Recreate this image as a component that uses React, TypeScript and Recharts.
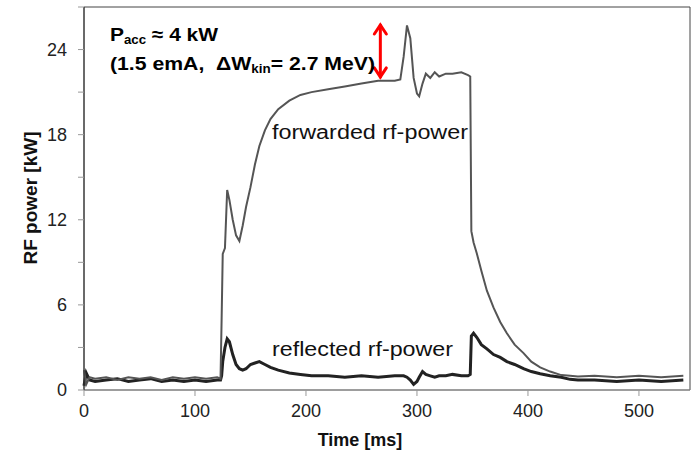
import React from 'react';
import { LineChart, Line, XAxis, YAxis, ReferenceArea, ReferenceLine } from 'recharts';

// time axis (ms), sampled by eye from the scope trace
const timeMs = [
  0, 2, 5, 10, 20, 30, 40, 50, 60, 70, 80, 90, 100, 110, 120, 123,
  124, 125, 127, 129, 131, 134, 137, 140, 143, 146, 150, 154, 158, 163, 168, 175,
  185, 195, 205, 220, 235, 250, 265, 280, 285, 288, 291, 294, 297, 300, 302, 305,
  308, 312, 316, 320, 326, 332, 340, 346, 348, 349, 351, 354, 358, 363, 369, 375,
  381, 388, 396, 403, 411, 420, 430, 438, 445, 460, 480, 500, 520, 540,
];

// forwarded rf-power [kW]
const forwardedKw = [
  1.4, 0.4, 0.9, 0.8, 0.9, 0.7, 0.9, 0.8, 0.9, 0.7, 0.9, 0.8, 0.9, 0.8, 0.9, 0.8,
  5.0, 9.6, 10.0, 14.1, 13.4, 12.0, 10.9, 10.5, 11.6, 12.9, 14.3, 15.9, 17.2, 18.3, 19.1, 19.8,
  20.4, 20.8, 21.0, 21.2, 21.4, 21.6, 21.8, 21.8, 21.9, 23.5, 25.7, 24.8, 22.0, 20.9, 20.7, 21.6,
  22.3, 22.0, 22.4, 22.1, 22.3, 22.3, 22.4, 22.2, 22.1, 11.2, 10.4, 9.6, 8.4, 7.0, 5.8, 4.8,
  4.0, 3.2, 2.6, 2.0, 1.6, 1.3, 1.05, 1.0, 0.95, 1.0, 0.9, 1.0, 0.9, 1.0,
];

// reflected rf-power [kW]
const reflectedKw = [
  0.3, 1.2, 0.7, 0.6, 0.7, 0.8, 0.6, 0.7, 0.8, 0.6, 0.7, 0.6, 0.7, 0.6, 0.7, 0.7,
  1.0, 2.0, 3.0, 3.6, 3.4, 2.5, 1.8, 1.5, 1.4, 1.5, 1.8, 1.9, 2.0, 1.8, 1.6, 1.4,
  1.2, 1.1, 1.0, 1.0, 0.9, 1.0, 0.9, 1.0, 1.0, 1.0, 0.9, 0.7, 0.4, 0.6, 0.9, 1.3,
  1.1, 1.0, 0.9, 1.0, 1.0, 1.1, 1.0, 1.0, 1.1, 3.8, 4.0, 3.7, 3.2, 2.9, 2.5, 2.3,
  2.0, 1.8, 1.5, 1.3, 1.15, 1.0, 0.9, 0.75, 0.7, 0.7, 0.6, 0.7, 0.6, 0.7,
];

const xTicks = [0, 100, 200, 300, 400, 500];
const yTicks = [0, 3, 6, 9, 12, 15, 18, 21, 24, 27];

// red double arrow marking the power step
const arrowTime = 267;
const arrowRange = [22.0, 25.8];

const data = timeMs.map((t, i) => ({ t, fwd: forwardedKw[i], refl: reflectedKw[i] }));

const FONT = 'Arial, "Liberation Sans", sans-serif';

const DoubleArrow = (props: any) => {
  const { x1, y1, x2, y2 } = props;
  if ([x1, y1, x2, y2].some((v) => typeof v !== 'number' || isNaN(v))) return null;
  const top = Math.min(y1, y2);
  const bot = Math.max(y1, y2);
  const x = x1;
  return (
    <g stroke="#ff0000" strokeWidth={3} fill="none" strokeLinecap="round">
      <line x1={x} y1={top + 1} x2={x} y2={bot - 1} />
      <polyline points={`${x - 6},${top + 10} ${x},${top + 1} ${x + 6},${top + 10}`} />
      <polyline points={`${x - 6},${bot - 10} ${x},${bot - 1} ${x + 6},${bot - 10}`} />
    </g>
  );
};

export default function App() {
  return (
    <div style={{ position: 'relative', width: 696, height: 475, background: '#fff' }}>
      <style>{`body{margin:0}`}</style>
      <LineChart
        width={696}
        height={475}
        data={data}
        margin={{ top: 7, right: 6, bottom: 55, left: 0 }}
      >
        <ReferenceArea x1={0} x2={546} y1={0} y2={27} fill="none" stroke="#444" strokeWidth={1} />
        <XAxis
          dataKey="t"
          type="number"
          domain={[0, 546]}
          ticks={xTicks}
          height={30}
          tickSize={6}
          tickMargin={8}
          stroke="#999"
          tick={{ fill: '#222', fontSize: 18, fontFamily: FONT }}
        />
        <YAxis
          type="number"
          domain={[0, 27]}
          ticks={yTicks}
          width={84}
          tickSize={6}
          tickMargin={11}
          axisLine={{ stroke: '#333' }}
          tickLine={{ stroke: '#999' }}
          tick={{ fill: '#222', fontSize: 18, fontFamily: FONT }}
          tickFormatter={(v: number) => (v % 6 === 0 ? String(v) : '')}
        />
        <Line
          dataKey="refl"
          stroke="#222"
          strokeWidth={3}
          dot={false}
          type="linear"
          isAnimationActive={false}
        />
        <Line
          dataKey="fwd"
          stroke="#555"
          strokeWidth={2}
          dot={false}
          type="linear"
          isAnimationActive={false}
        />
        <ReferenceLine
          segment={[
            { x: arrowTime, y: arrowRange[0] },
            { x: arrowTime, y: arrowRange[1] },
          ]}
          shape={DoubleArrow}
        />
      </LineChart>
      <svg
        width={696}
        height={475}
        style={{ position: 'absolute', left: 0, top: 0, pointerEvents: 'none' }}
        fontFamily={FONT}
      >
        <text x={110} y={41} fontSize={19} fontWeight="bold" fill="#000" textLength={108} lengthAdjust="spacingAndGlyphs" style={{ whiteSpace: 'pre' }}>
          P<tspan fontSize={12} dy={3}>acc</tspan><tspan dy={-3}> ≈ 4 kW</tspan>
        </text>
        <text x={110} y={70} fontSize={19} fontWeight="bold" fill="#000" textLength={265} lengthAdjust="spacingAndGlyphs" style={{ whiteSpace: 'pre' }}>
          (1.5 emA,  ΔW<tspan fontSize={12} dy={3}>kin</tspan><tspan dy={-3}>= 2.7 MeV)</tspan>
        </text>
        <text x={272} y={139} fontSize={20} fill="#111" textLength={196} lengthAdjust="spacingAndGlyphs">
          forwarded rf-power
        </text>
        <text x={272} y={356} fontSize={20} fill="#111" textLength={181} lengthAdjust="spacingAndGlyphs">
          reflected rf-power
        </text>
        <text x={360} y={446} fontSize={18} fontWeight="bold" fill="#111" textAnchor="middle">
          Time [ms]
        </text>
        <text
          x={0}
          y={0}
          fontSize={19}
          fontWeight="bold"
          fill="#111"
          textAnchor="middle"
          transform="translate(37,198) rotate(-90)"
        >
          RF power [kW]
        </text>
      </svg>
    </div>
  );
}
